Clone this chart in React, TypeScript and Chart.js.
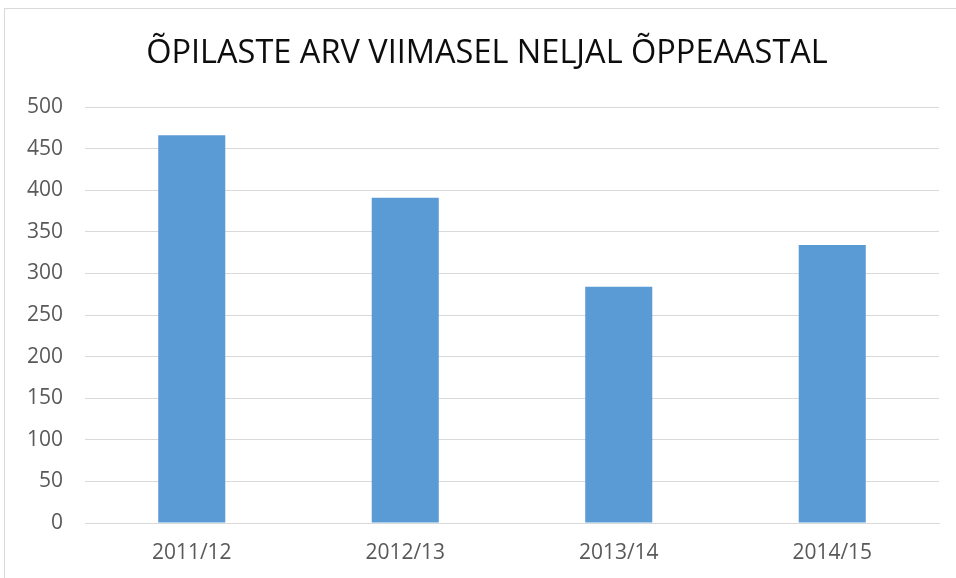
import React, { useEffect, useRef } from "react";
import { Chart, registerables } from "chart.js";

Chart.register(...registerables);

const TITLE = "ÕPILASTE ARV VIIMASEL NELJAL ÕPPEAASTAL";
const categories = ["2011/12", "2012/13", "2013/14", "2014/15"];
const students = [466, 391, 284, 334];
const yMin = 0;
const yMax = 500;
const yStep = 50;

const titleShift = {
  id: "titleShift",
  afterLayout(chart: any) {
    const t = chart.titleBlock;
    if (t) {
      t.left = 18;
      t.right = 956;
    }
  },
};

export default function App() {
  const ref = useRef<HTMLCanvasElement | null>(null);

  useEffect(() => {
    if (!ref.current) return;
    const chart = new Chart(ref.current, {
      type: "bar",
      data: {
        labels: categories,
        datasets: [
          {
            label: "Õpilaste arv",
            data: students,
            backgroundColor: "#5B9BD5",
            borderWidth: 0,
            categoryPercentage: 1,
            barPercentage: 0.314,
          },
        ],
      },
      plugins: [titleShift],
      options: {
        responsive: false,
        animation: false,
        maintainAspectRatio: false,
        layout: { padding: { left: 0, right: 17, top: 0, bottom: 0 } },
        plugins: {
          legend: { display: false },
          tooltip: { enabled: false },
          title: {
            display: true,
            text: TITLE,
            color: "#0d0d0d",
            font: { family: "'Open Sans'", size: 32.5, weight: "normal", lineHeight: 1.2 },
            padding: { top: 34, bottom: 34 },
          },
        },
        scales: {
          x: {
            grid: { display: false, drawTicks: false },
            border: { display: true, color: "#D9D9D9", width: 1 },
            ticks: {
              color: "#595959",
              font: { family: "'Open Sans'", size: 21 },
              padding: 17,
            },
            afterFit: (s: any) => {
              s.height = 55;
            },
          },
          y: {
            min: yMin,
            max: yMax,
            grid: { color: "#D9D9D9", lineWidth: 1, drawTicks: false },
            border: { display: false },
            ticks: {
              stepSize: yStep,
              color: "#595959",
              font: { family: "'Open Sans'", size: 21 },
              padding: 22,
            },
            afterFit: (s: any) => {
              s.width = 85;
            },
          },
        },
      },
    });
    return () => chart.destroy();
  }, []);

  return (
    <div style={{ position: "fixed", left: 0, top: 0, width: 956, height: 578, overflow: "hidden", background: "#fff" }}>
      <div
        style={{
          position: "absolute",
          left: 4,
          top: 8,
          width: 980,
          height: 600,
          border: "1px solid #D9D9D9",
          boxSizing: "border-box",
        }}
      />
      <canvas
        ref={ref}
        width={956}
        height={578}
        style={{ position: "absolute", left: 0, top: 0, width: 956, height: 578 }}
      />
    </div>
  );
}
